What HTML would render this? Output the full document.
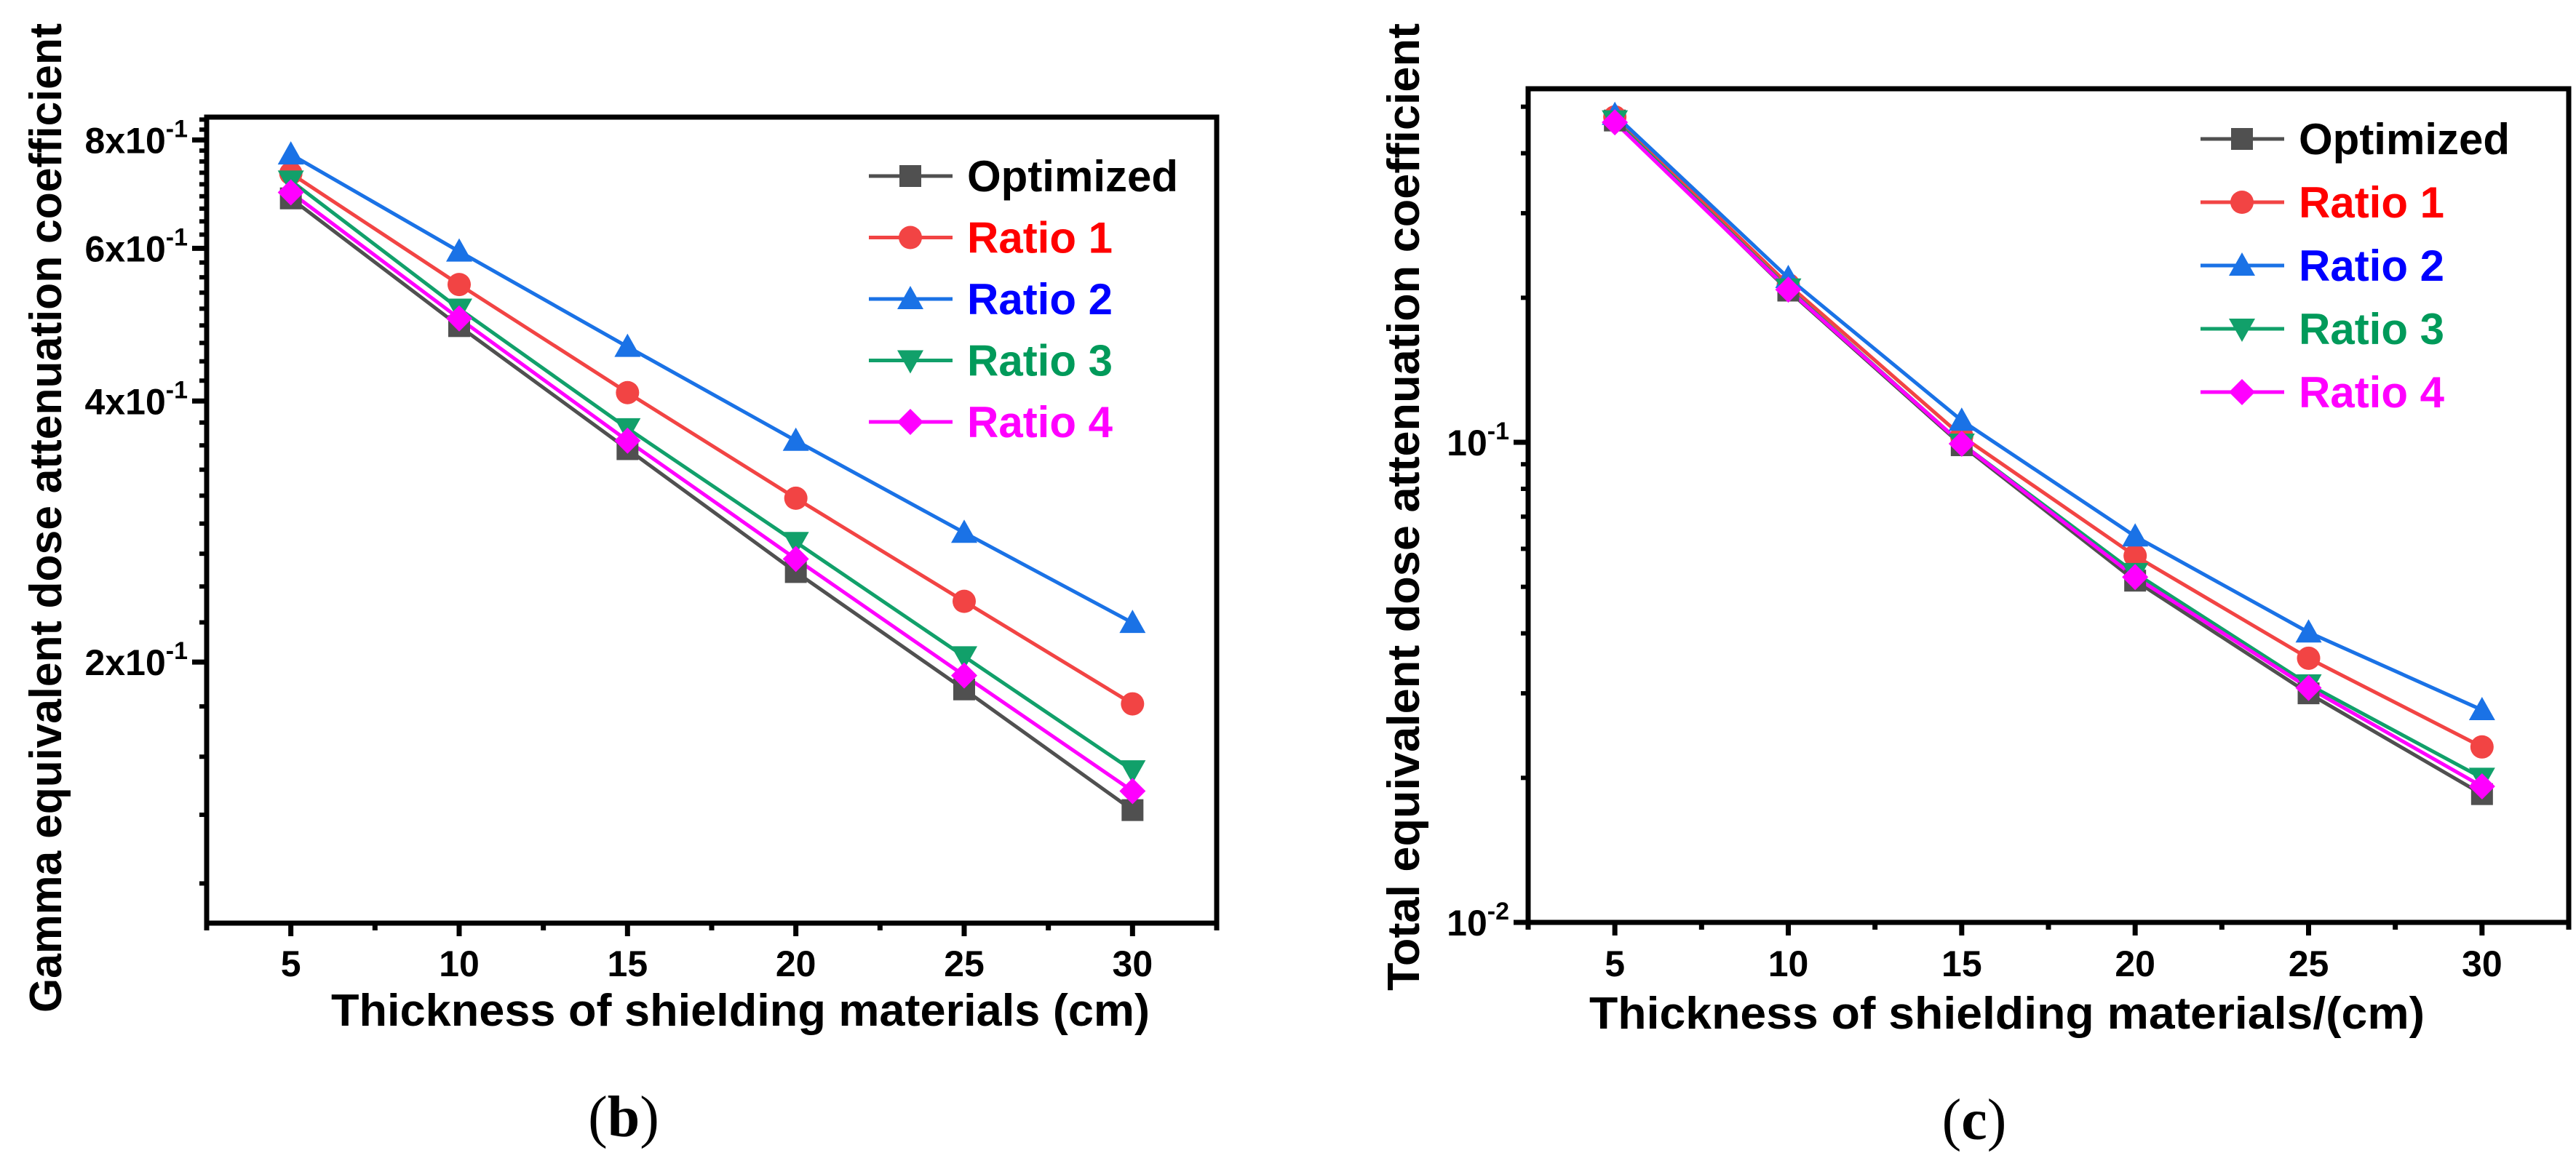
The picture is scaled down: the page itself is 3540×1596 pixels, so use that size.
<!DOCTYPE html>
<html><head><meta charset="utf-8"><style>
html,body{margin:0;padding:0;background:#fff;}
svg{display:block;}
</style></head><body>
<svg id="fig" width="3540" height="1596" viewBox="0 0 3540 1596" xmlns="http://www.w3.org/2000/svg" font-family="Liberation Sans, sans-serif">
<g id="left"></g>
<g id="right"></g>
<text x="857" y="1562" font-family="Liberation Serif, serif" font-size="80" text-anchor="middle">(<tspan font-weight="bold">b</tspan>)</text>
<text x="2713" y="1566" font-family="Liberation Serif, serif" font-size="80" text-anchor="middle">(<tspan font-weight="bold">c</tspan>)</text>
</svg>
<script>
const xCats = [5, 10, 15, 20, 25, 30];
const seriesNames = ["Optimized", "Ratio 1", "Ratio 2", "Ratio 3", "Ratio 4"];
const gammaOptimized = [0.685, 0.488, 0.352, 0.254, 0.186, 0.135];
const gammaRatio1 = [0.732, 0.545, 0.409, 0.309, 0.235, 0.179];
const gammaRatio2 = [0.770, 0.595, 0.462, 0.360, 0.282, 0.222];
const gammaRatio3 = [0.718, 0.511, 0.372, 0.275, 0.203, 0.150];
const gammaRatio4 = [0.696, 0.498, 0.360, 0.263, 0.193, 0.142];
const totalOptimized = [0.468, 0.207, 0.0986, 0.0515, 0.0300, 0.0185];
const totalRatio1 = [0.476, 0.213, 0.103, 0.058, 0.0355, 0.0232];
const totalRatio2 = [0.481, 0.220, 0.111, 0.0637, 0.0402, 0.0277];
const totalRatio3 = [0.468, 0.209, 0.0993, 0.0534, 0.0313, 0.0200];
const totalRatio4 = [0.464, 0.208, 0.0993, 0.0524, 0.0308, 0.0192];
const gammaTickVals = [0.2, 0.4, 0.6, 0.8];
const gammaTickMant = ["2", "4", "6", "8"];
const totalTickVals = [0.01, 0.1];
const totalTickExp = ["-2", "-1"];
const xTickLabels = ["5", "10", "15", "20", "25", "30"];

const NS = "http://www.w3.org/2000/svg";
const lineColors = ["#505050", "#f24444", "#1a72e6", "#11a06a", "#ff00ff"];
const textColors = ["#000000", "#ff0000", "#0000ff", "#009a5a", "#ff00ff"];
const markers = ["square", "circle", "tri", "tridown", "diamond"];

function mk(parent, tag, attrs) {
  const e = document.createElementNS(NS, tag);
  for (const k in attrs) e.setAttribute(k, attrs[k]);
  parent.appendChild(e);
  return e;
}
function marker(g, type, cx, cy, color) {
  const s = 15;
  let e;
  if (type === "square") e = mk(g, "rect", {x: cx - s, y: cy - s, width: 2 * s, height: 2 * s, fill: color});
  else if (type === "circle") e = mk(g, "circle", {cx: cx, cy: cy, r: s + 1, fill: color});
  else if (type === "tri") e = mk(g, "polygon", {points: `${cx},${cy - s - 3} ${cx - s - 3},${cy + s - 1} ${cx + s + 3},${cy + s - 1}`, fill: color});
  else if (type === "tridown") e = mk(g, "polygon", {points: `${cx},${cy + s + 3} ${cx - s - 3},${cy - s + 1} ${cx + s + 3},${cy - s + 1}`, fill: color});
  else e = mk(g, "polygon", {points: `${cx},${cy - s - 3} ${cx + s + 3},${cy} ${cx},${cy + s + 3} ${cx - s - 3},${cy}`, fill: color});
  return e;
}

function drawChart(g, cfg) {
  const {L, R, T, B, xmin, xmax, ymin, ymax, series} = cfg;
  const xs = v => L + (v - xmin) / (xmax - xmin) * (R - L);
  const ys = v => B - (Math.log10(v) - Math.log10(ymin)) / (Math.log10(ymax) - Math.log10(ymin)) * (B - T);
  // frame
  const frame = mk(g, "rect", {x: L, y: T, width: R - L, height: B - T, fill: "none", stroke: "#000", "stroke-width": 7});
  
  
  // x ticks
  for (let v = xmin; v <= xmax + 0.01; v += 2.5) {
    const major = Math.abs((v % 5)) < 0.01;
    const t = mk(g, "line", {x1: xs(v), x2: xs(v), y1: B, y2: B + (major ? 18 : 10), stroke: "#000", "stroke-width": 7});
    
    
  }
  xCats.forEach((c, i) => {
    const t = mk(g, "text", {x: xs(c), y: 1342, "font-size": 50, "font-weight": "bold", "text-anchor": "middle"});
    t.textContent = xTickLabels[i];
    
    
  });
  // y minor ticks
  cfg.minor.forEach(v => {
    if (v < ymin || v > ymax) return;
    const t = mk(g, "line", {x1: L, x2: L - 10, y1: ys(v), y2: ys(v), stroke: "#000", "stroke-width": 6});
    
    
  });
  cfg.majorVals.forEach((v, i) => {
    const t = mk(g, "line", {x1: L, x2: L - 20, y1: ys(v), y2: ys(v), stroke: "#000", "stroke-width": 7});
    
    
    const tx = mk(g, "text", {x: L - 26, y: ys(v) + 18, "font-size": 50, "font-weight": "bold", "text-anchor": "end"});
    tx.innerHTML = cfg.majorLabel(i);
    
    
  });
  // series
  series.forEach((vals, si) => {
    const sg = mk(g, "g", {});
    
    
    const pts = vals.map((v, i) => xs(xCats[i]) + "," + ys(v)).join(" ");
    const pl = mk(sg, "polyline", {points: pts, fill: "none", stroke: lineColors[si], "stroke-width": 5});
    
    
  });
  series.forEach((vals, si) => {
    vals.forEach((v, i) => {
      const m = marker(g, markers[si], xs(xCats[i]), ys(v), lineColors[si]);
      
      
    });
  });
  // legend
  const lg = mk(g, "g", {});
  
  
  seriesNames.forEach((n, i) => {
    const y = cfg.legY[0] + i * cfg.legY[1];
    const eg = mk(lg, "g", {});
    
    
    mk(eg, "line", {x1: cfg.legX, x2: cfg.legX + 115, y1: y, y2: y, stroke: lineColors[i], "stroke-width": 5});
    marker(eg, markers[i], cfg.legX + 57, y, lineColors[i]);
    const t = mk(eg, "text", {x: cfg.legX + 135, y: y + 21, "font-size": 60, "font-weight": "bold", fill: textColors[i]});
    t.textContent = n;
  });
  // titles
  const xt = mk(g, "text", {x: cfg.xTitle[0], y: cfg.xTitle[2], "font-size": 62, "font-weight": "bold", textLength: cfg.xTitle[1] - cfg.xTitle[0], lengthAdjust: "spacingAndGlyphs"});
  xt.textContent = cfg.xTitleText;
  
  
  const [cx, cy, len] = cfg.yTitle;
  const yt = mk(g, "text", {x: cx, y: cy, "font-size": 62, "font-weight": "bold", "text-anchor": "middle", transform: `rotate(-90 ${cx} ${cy})`, textLength: len, lengthAdjust: "spacingAndGlyphs"});
  yt.textContent = cfg.yTitleText;
  
  
}

const gMinor = [];
for (let k = 5; k <= 38; k++) gMinor.push(0.2 * k / 9);
drawChart(document.getElementById("left"), {
  L: 284, R: 1672, T: 161, B: 1269, xmin: 2.5, xmax: 32.5, ymin: 0.1, ymax: 0.85,
  series: [gammaOptimized, gammaRatio1, gammaRatio2, gammaRatio3, gammaRatio4],
  minor: gMinor, majorVals: gammaTickVals,
  majorLabel: i => gammaTickMant[i] + 'x10<tspan font-size="34" dy="-22">-1</tspan>',
  legX: 1194, legY: [242, 84.5],
  xTitle: [455, 1580, 1410], xTitleText: "Thickness of shielding materials  (cm)",
  yTitle: [84, 712, 1360], yTitleText: "Gamma equivalent dose attenuation coefficient"
});
const tMinor = [];
[0.01, 0.1].forEach(d => { for (let k = 2; k <= 9; k++) tMinor.push(d * k); });
drawChart(document.getElementById("right"), {
  L: 2100, R: 3530, T: 122, B: 1268, xmin: 2.5, xmax: 32.5, ymin: 0.01, ymax: 0.545,
  series: [totalOptimized, totalRatio1, totalRatio2, totalRatio3, totalRatio4],
  minor: tMinor, majorVals: totalTickVals,
  majorLabel: i => '10<tspan font-size="34" dy="-22">' + totalTickExp[i] + '</tspan>',
  legX: 3024, legY: [191, 87],
  xTitle: [2184, 3332, 1414], xTitleText: "Thickness of shielding materials/(cm)",
  yTitle: [1950, 697, 1330], yTitleText: "Total equivalent dose attenuation coefficient"
});
</script>
</body></html>
